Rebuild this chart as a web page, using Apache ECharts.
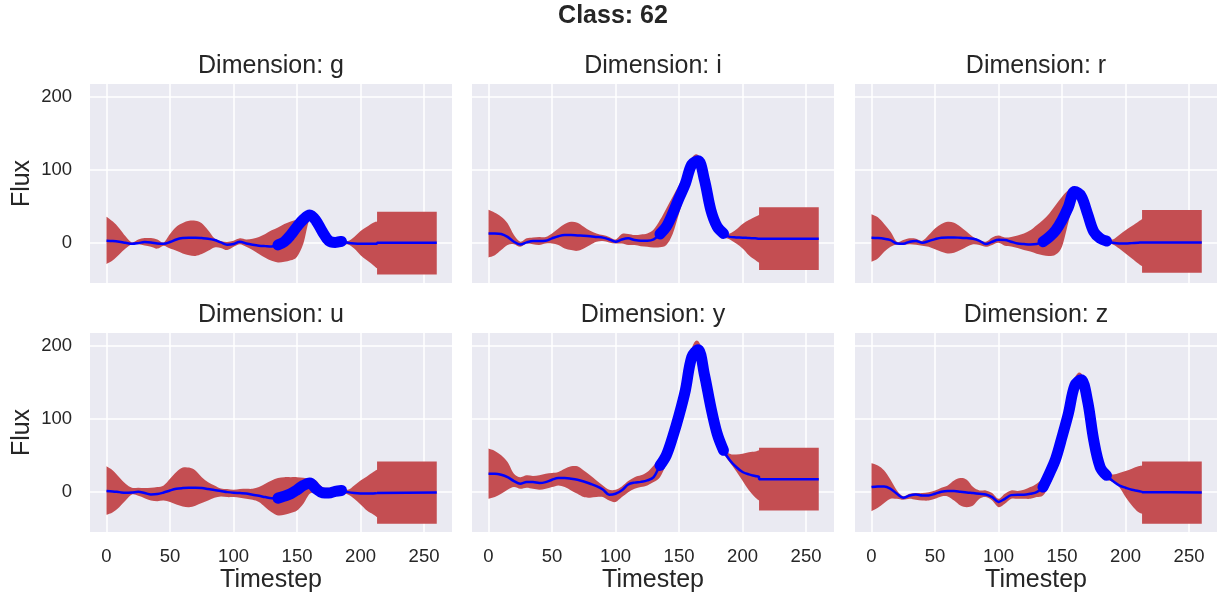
<!DOCTYPE html>
<html><head><meta charset="utf-8">
<script src="https://cdn.jsdelivr.net/npm/echarts@6/dist/echarts.min.js"></script>
<style>html,body{margin:0;padding:0;background:#fff}#c{width:1224px;height:603px}</style>
</head><body><div id="c"></div>
<script>
// Timestep grid (5-unit steps to 210, then the step edge at 213 and the end at 260)
const T = [0,5,10,15,20,25,30,35,40,45,50,55,60,65,70,75,80,85,90,95,100,105,110,115,120,125,130,135,140,145,150,155,160,165,170,175,180,185,190,195,200,205,210,213,213,260];

const meanG = [2.7,2.3,1.4,0,-1.4,-0.5,1,0.5,-1,-1.4,1,4.5,6.4,7,7,6.4,5.5,3.7,0.5,-2.7,-1.8,1.4,-1,-2.7,-4,-4.6,-5,-3,1.4,10.5,22,32,38,30,15,2.7,0.5,1.8,0,-1,-1.4,-1.4,-1.4,-1.4,0,0];
const hiG   = [35.6,29,20,9,0.5,4.5,6.4,6.4,4.5,0.5,12,22,27,30,30,26.5,17,6,2.3,1,2.7,6,4.5,5.5,8,12,17,21,25.5,29,32,38,42.5,36.5,22,8,4.5,5.5,2.3,8,16,22,27.4,29,42.5,42.5];
const loG   = [-29,-24,-16,-8,-2,-2,-3.7,-5.5,-8,-4,-8,-11,-14.6,-17,-18,-15.5,-11,-6.4,-7,-10,-5.5,-2,-5.5,-10,-15.5,-20.5,-24.7,-27,-26,-24,-19,-1,32,22,8,-3,-4,-3.7,-2.3,-8,-17,-24,-30.6,-35,-43.4,-43.4];

const meanI = [12.8,12.8,12,8,1.4,-2.3,0.5,2.3,2.3,2.7,6,9,10.5,10.5,10,9.6,9,8,7,4.5,1.4,4.5,6,3.7,2.7,2.7,4.5,12,22,40,61,81,107,112,86,45,22,12.8,8,7.3,7,6.4,6,5.5,5.5,5.5];
const hiI   = [45,41,35.6,26.5,10.5,1.4,6,7.3,8,8,12.8,19.6,25.6,28.8,27.4,22,16.4,12.8,10.5,8,4.5,12,12,10.5,11.4,12.8,18,31,47,63,79,95,116,120,99.5,58.4,26.5,15,12.8,18,25.6,31,35.6,38,48.4,48.4];
const loI   = [-20,-17,-10,-3,-2,-5.5,-1,-2,-3,-1,-1,-3,-7.8,-10,-11,-7.8,-3,1.4,2.3,0.5,-1,-1,-3,-3,-4.6,-5.5,-6.4,-6,-3,12,40,68,96,104,76.7,31,15,8,4.6,-1,-7.8,-17,-23.7,-27.4,-37.4,-37.4];

const meanR = [6.8,6.4,5.5,3.7,-1,-1.4,1.4,2.3,0,2.3,5,7,7.3,7.3,6.8,6.4,5.5,2.7,-1.8,1.4,4,3.7,1.4,-1,-1.8,-2.3,-1.8,1.4,8,17,31,49,70,64,40,15,6,2.3,0,-1,-1,-0.5,0,0.5,0.5,0.5];
const hiR   = [39,34.7,25.6,15,1.4,3.7,6,5.5,2.7,10.5,19.6,25.6,28.8,27.4,22,15,8,3.7,1.4,7.3,10,7.3,8,10,12.8,17,24,31,40,51.6,63,72,76.7,67.6,49,22,9,6,4.5,10.5,17,22.8,28.8,32,44.7,44.7];
const loR   = [-26,-21.5,-12.3,-5.5,-2.3,-3,-2,-2.7,-4,-5.5,-9,-12.3,-14.6,-13.7,-10,-5.5,-2,-3,-5.5,-3,0,-4,-5,-7,-10,-12,-15,-17,-18,-16,-5,28,60.7,54,31,8,1.4,-1,-2.3,-7.8,-14.6,-21.5,-28.3,-32,-41,-41];

const meanU = [1,0.5,-0.5,-1.4,-1,0,-1.8,-3.7,-3.2,-1,1.8,4,5,5.5,5.5,5,3.7,2.3,1,-0.5,-1.4,-1.8,-2.3,-4,-5.5,-7.3,-8.7,-8.7,-6,-2.7,2.7,8.7,12,4,-1.4,-1.8,0.5,1.8,-0.5,-1.8,-2.3,-2.3,-2.3,-1.8,-1,-1];
const hiU   = [34.7,29,20,11,5.5,5.5,5,5.5,6.4,8.7,17.8,27,33,33,29,20,13,8.7,4.6,3.7,2.7,3.7,4,4,6.4,11,15.5,18.7,20,20,20,19,17.8,15.5,6.4,5.5,6.4,7.3,2.7,8.7,15.5,21,27,30,41.5,41.5];
const loU   = [-31.5,-28,-21,-12,-3.7,-5.5,-8.7,-12,-12.8,-12,-14,-17.4,-20,-21,-19,-15.5,-12,-8.2,-6.4,-7.3,-7.3,-8.2,-9.6,-11,-14,-21,-28,-32.4,-31.5,-29,-25.6,-16.4,-2.7,-2.7,-7.3,-7.3,-5,-3.7,-3.7,-9.6,-17.4,-25.6,-31,-34.7,-43.8,-43.8];

const meanY = [24.7,24.7,23.3,20,14.6,11,13.2,13.2,12,13.2,16.4,18.7,18.7,17.8,16.4,14,11,7.8,3.2,-4,-2.7,2,10,12.5,13.5,15.5,20,36,50,75,104.6,138.8,184,194,160,116,79.5,56.6,43,33.8,27,23.7,21.5,20,17,17];
const hiY   = [59,55.7,49.8,40.6,24.7,20,22.4,21.5,22.4,24.7,25.6,27,31.5,34.7,34.7,29,22.4,15.5,8.7,2.7,2.7,7.3,14.6,20,22.4,27,36,45,63.5,88.6,118,152.5,196,206,181.7,134,93,61,52,51,52,54,55,56.6,60.3,60.3];
const loY   = [-9.6,-7.3,-2.7,2.7,6.4,4,5.5,4,2.7,4,6.4,8.7,6.4,1.8,-2.7,-7.3,-8.2,-7.3,-7.3,-12,-14,-7.3,-0.5,4,6.4,8.7,13.2,20,38,61,91,125,170,184,145.7,102,65.7,52,40,28,15,2,-8,-12,-25.6,-25.6];

const meanZ = [6.4,7.3,7.3,4,-2.7,-8.2,-5,-3.7,-5,-5,-2.7,0,1,1,0,-1,-1.8,-2.7,-3.7,-7.3,-14,-9.6,-4.6,-4,-4,-2.7,-0.5,6.4,24.7,45,75,107,145,153,125,70,33.8,22.4,14.6,8.7,5.5,2.7,1,-0.5,-1,-1];
const hiZ   = [39,36,29,16.4,1.8,-6,-2.7,-1.8,-1.8,-0.5,1.8,5.5,8.7,15.5,18.7,16.4,6.4,1.8,1.8,-1.8,-9.6,-2.7,1.8,1,2.7,6.4,11,20,38,63,91,125,156,162,138.8,84,40.6,27,23.7,25.6,28.3,31.5,34.7,36,41.5,41.5];
const loZ   = [-26.5,-22,-15.5,-9.6,-9.6,-11,-9.6,-11,-12,-12,-9.6,-6.4,-6.4,-12,-18.7,-21,-18.7,-9.6,-7.3,-12,-21,-16.4,-9.6,-9.6,-9.6,-9.6,-7.3,-5,8.7,29,59,93,132,143,107,54,29,17.8,13.2,6.4,-7.3,-18.7,-27.8,-30,-43.8,-43.8];

// observed stretch drawn as thick markers
const OBS_START = 135, OBS_END = 185;
const X_MIN = -13, X_MAX = 272, Y_MIN = -55, Y_MAX = 217;
const TITLE = 'Class: 62';

const panels = [
  {d:'g', mean:meanG, hi:hiG, lo:loG},
  {d:'i', mean:meanI, hi:hiI, lo:loI},
  {d:'r', mean:meanR, hi:hiR, lo:loR},
  {d:'u', mean:meanU, hi:hiU, lo:loU},
  {d:'y', mean:meanY, hi:hiY, lo:loY},
  {d:'z', mean:meanZ, hi:hiZ, lo:loZ}
];

const FONT = "'Liberation Sans', Arial, Helvetica, sans-serif";
const TXT = '#262626';
const LEFTS = [90, 472, 855], TOPS = [84, 333], W = 362, H = 199;

// split a run of pixel points at vertical steps (repeated x), smooth each piece (Catmull-Rom)
function pieces(pts) {
  const out = [[pts[0]]];
  for (let k = 1; k < pts.length; k++) {
    if (Math.abs(pts[k][0] - pts[k - 1][0]) < 1e-6) out.push([pts[k]]);
    else out[out.length - 1].push(pts[k]);
  }
  return out;
}
function smoothSeg(p, first) {
  let s = (first ? 'M' : 'L') + p[0][0].toFixed(2) + ' ' + p[0][1].toFixed(2);
  const k = 1 / 6;
  for (let i = 0; i < p.length - 1; i++) {
    const p0 = p[i - 1] || p[i], p1 = p[i], p2 = p[i + 1], p3 = p[i + 2] || p[i + 1];
    const c1x = p1[0] + (p2[0] - p0[0]) * k, c1y = p1[1] + (p2[1] - p0[1]) * k;
    const c2x = p2[0] - (p3[0] - p1[0]) * k, c2y = p2[1] - (p3[1] - p1[1]) * k;
    s += 'C' + c1x.toFixed(2) + ' ' + c1y.toFixed(2) + ' ' + c2x.toFixed(2) + ' ' + c2y.toFixed(2) + ' ' + p2[0].toFixed(2) + ' ' + p2[1].toFixed(2);
  }
  return s;
}
function bandRenderer(p) {
  return function (params, api) {
    if (params.dataIndex !== 0) return null;
    const up = T.map((t, k) => api.coord([t, p.hi[k]]));
    const dn = T.map((t, k) => api.coord([t, p.lo[k]])).reverse();
    let d = '';
    pieces(up).forEach((seg, j) => { d += smoothSeg(seg, j === 0); });
    pieces(dn).forEach((seg) => { d += smoothSeg(seg, false); });
    d += 'Z';
    return {type: 'path', shape: {pathData: d}, style: {fill: '#C44E52'}};
  };
}

const grids = [], xAxes = [], yAxes = [], series = [], graphics = [];
panels.forEach((p, i) => {
  const row = Math.floor(i / 3), col = i % 3;
  grids.push({left: LEFTS[col], top: TOPS[row], width: W, height: H, show: true,
    backgroundColor: '#EAEAF2', borderWidth: 0, containLabel: false});
  xAxes.push({type: 'value', gridIndex: i, min: X_MIN, max: X_MAX, splitNumber: 5,
    axisLine: {show: false}, axisTick: {show: false},
    axisLabel: {show: row === 1, fontSize: 18.5, color: TXT, fontFamily: FONT, margin: 15,
      showMinLabel: false, showMaxLabel: false},
    splitLine: {show: true, showMinLine: false, showMaxLine: false, lineStyle: {color: '#ffffff', width: 1.5}},
    name: row === 1 ? 'Timestep' : '', nameLocation: 'middle', nameGap: 36,
    nameTextStyle: {fontSize: 25, color: TXT, fontFamily: FONT}});
  yAxes.push({type: 'value', gridIndex: i, min: Y_MIN, max: Y_MAX, splitNumber: 3,
    axisLine: {show: false}, axisTick: {show: false},
    axisLabel: {show: col === 0, fontSize: 18.5, color: TXT, fontFamily: FONT, margin: 18,
      showMinLabel: false, showMaxLabel: false},
    splitLine: {show: true, showMinLine: false, showMaxLine: false, lineStyle: {color: '#ffffff', width: 1.5}},
    name: col === 0 ? 'Flux' : '', nameLocation: 'middle', nameGap: 55,
    nameTextStyle: {fontSize: 25, color: TXT, fontFamily: FONT}});

  series.push({type: 'custom', xAxisIndex: i, yAxisIndex: i, silent: true, z: 1,
    data: T.map((t, k) => [t, p.lo[k], p.hi[k]]), encode: {x: 0, y: [1, 2]},
    renderItem: bandRenderer(p)});
  series.push({type: 'line', xAxisIndex: i, yAxisIndex: i,
    data: T.map((t, k) => [t, p.mean[k]]), symbol: 'none', smooth: 0.35,
    lineStyle: {color: '#0000FF', width: 2.5}, silent: true, z: 2});
  series.push({type: 'line', xAxisIndex: i, yAxisIndex: i,
    data: T.map((t, k) => [t, p.mean[k]]).filter(d => d[0] >= OBS_START && d[0] <= OBS_END),
    symbol: 'none', smooth: 0.35,
    lineStyle: {color: '#0000FF', width: 11, cap: 'round', join: 'round'}, silent: true, z: 3});

  graphics.push({type: 'text', x: LEFTS[col] + W / 2, y: TOPS[row] - 18,
    style: {text: 'Dimension: ' + p.d, fontSize: 25, fontFamily: FONT, fill: TXT, align: 'center', verticalAlign: 'middle'}});
});
graphics.push({type: 'text', x: 613, y: 16,
  style: {text: TITLE, fontSize: 25, fontWeight: 'bold', fontFamily: FONT, fill: TXT, align: 'center', verticalAlign: 'middle'}});

const chart = echarts.init(document.getElementById('c'), null, {renderer: 'canvas'});
chart.setOption({
  animation: false,
  backgroundColor: '#ffffff',
  grid: grids, xAxis: xAxes, yAxis: yAxes, series: series, graphic: graphics
});
</script></body></html>
